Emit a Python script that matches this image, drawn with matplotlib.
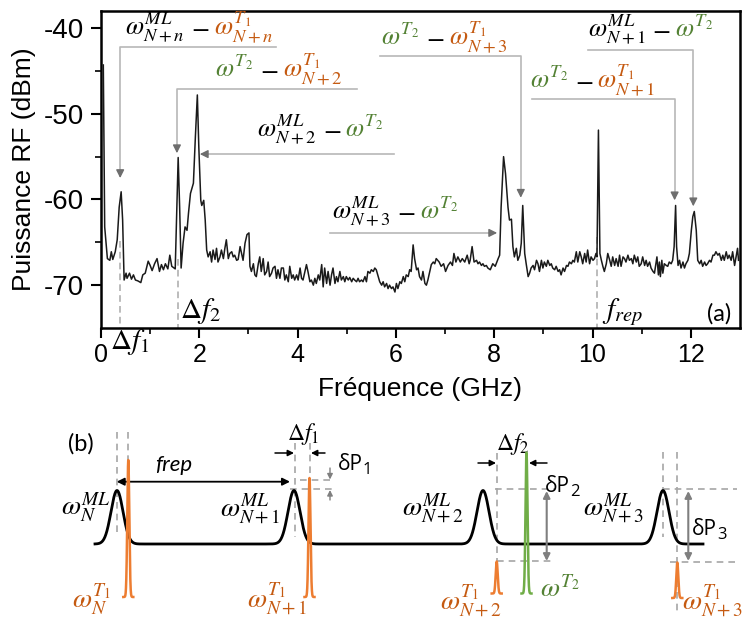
import numpy as np
import matplotlib
matplotlib.use('Agg')
import matplotlib.pyplot as plt
from matplotlib.transforms import offset_copy

plt.rcParams['mathtext.fontset'] = 'stix'
plt.rcParams['axes.unicode_minus'] = False
plt.rcParams['font.family'] = ['Liberation Sans', 'DejaVu Sans']

# ---------------- data: RF spectrum (panel a) ----------------
freq_ghz = [
    0.047, 0.075, 0.13, 0.18, 0.21, 0.24, 0.29, 0.33, 0.37, 0.41, 0.44, 0.47, 0.51, 0.53, 0.58, 0.62,
    0.66, 0.70, 0.75, 0.81, 0.85, 0.90, 0.96, 1.00, 1.04, 1.09, 1.14, 1.19, 1.23, 1.27, 1.31, 1.36,
    1.40, 1.44, 1.51, 1.57, 1.60, 1.63, 1.67, 1.71, 1.75, 1.78, 1.82, 1.88, 1.92, 1.96, 1.99, 2.03,
    2.05, 2.09, 2.12,
    2.15, 2.18, 2.22, 2.25, 2.28, 2.32, 2.35, 2.38, 2.42, 2.45, 2.49, 2.52, 2.55, 2.59, 2.62, 2.66,
    2.69, 2.72, 2.76, 2.79, 2.83, 2.86, 2.89, 2.93, 2.97, 3.01, 3.03, 3.06, 3.10, 3.13, 3.16, 3.20,
    3.23, 3.26, 3.30, 3.33, 3.37, 3.40, 3.43, 3.47, 3.50, 3.54, 3.57, 3.60, 3.64, 3.67, 3.71, 3.74,
    3.77, 3.81, 3.84, 3.88, 3.91, 3.94, 3.98, 4.01, 4.05, 4.08, 4.11, 4.15, 4.18, 4.21, 4.25, 4.28,
    4.32, 4.35, 4.38, 4.42,
    4.45, 4.49, 4.52, 4.55, 4.59, 4.62, 4.66, 4.69, 4.72, 4.76, 4.79, 4.82, 4.86, 4.89, 4.93, 4.96,
    4.99, 5.03, 5.06, 5.10, 5.13, 5.16, 5.20, 5.23, 5.26, 5.30, 5.33, 5.37, 5.40, 5.43, 5.47, 5.50,
    5.54, 5.57, 5.60, 5.64, 5.67, 5.71, 5.74, 5.77, 5.81, 5.84, 5.87, 5.91, 5.94, 5.98, 6.01, 6.04,
    6.08, 6.11, 6.15, 6.18, 6.21, 6.25, 6.28, 6.31, 6.35, 6.38, 6.42, 6.45, 6.48, 6.52, 6.55, 6.59,
    6.62, 6.65, 6.69, 6.72, 6.76,
    6.79, 6.82, 6.88, 6.92, 6.97, 7.01, 7.06, 7.11, 7.15, 7.18, 7.22, 7.26, 7.31, 7.35, 7.40, 7.45,
    7.49, 7.51, 7.55, 7.59, 7.64, 7.67, 7.70, 7.74, 7.77, 7.80, 7.84, 7.87, 7.92, 7.97, 8.02, 8.08,
    8.11, 8.14, 8.19, 8.23, 8.28, 8.31, 8.35, 8.38, 8.41, 8.45, 8.48, 8.52, 8.55, 8.58, 8.62, 8.65,
    8.69, 8.72, 8.75, 8.79, 8.82, 8.86,
    8.89, 8.92, 8.96, 8.99, 9.02, 9.06, 9.09, 9.13, 9.16, 9.19, 9.23, 9.26, 9.30, 9.33, 9.36, 9.40,
    9.43, 9.47, 9.50, 9.53, 9.57, 9.60, 9.63, 9.67, 9.70, 9.74, 9.77, 9.80, 9.84, 9.87, 9.90, 9.94,
    9.97, 10.01, 10.04, 10.07, 10.09, 10.12, 10.15, 10.18, 10.21, 10.24, 10.28, 10.31, 10.35, 10.38,
    10.41, 10.45, 10.48, 10.52, 10.55, 10.58, 10.62, 10.65, 10.68, 10.72, 10.75, 10.79, 10.82, 10.85,
    10.89, 10.92, 10.95,
    10.99, 11.02, 11.06, 11.09, 11.12, 11.16, 11.19, 11.23, 11.26, 11.29, 11.31, 11.34, 11.36, 11.38,
    11.41, 11.43, 11.46, 11.50, 11.53, 11.56, 11.60, 11.63, 11.66, 11.69, 11.71, 11.74, 11.77, 11.80,
    11.84, 11.87, 11.90, 11.94, 11.97, 12.01, 12.04, 12.07, 12.11, 12.14, 12.18, 12.21, 12.24, 12.28,
    12.31, 12.34, 12.38, 12.41, 12.45, 12.48, 12.51, 12.55, 12.58, 12.62, 12.65, 12.68, 12.72, 12.75,
    12.78, 12.82, 12.85, 12.89, 12.92, 12.95, 12.97,
]
power_dbm = [
    -44.3, -63.2, -66.9, -67.1, -66.1, -67.0, -66.1, -64.7, -60.9, -59.1, -62.4, -69.4, -68.6, -69.2, -68.6, -69.3,
    -68.8, -69.4, -69.5, -69.7, -68.8, -68.6, -67.2, -67.7, -68.3, -67.5, -66.9, -68.4, -67.6, -68.2, -67.5, -68.1,
    -66.5, -67.8, -68.1, -55.1, -60.9, -68.0, -65.1, -63.2, -63.6, -61.6, -59.3, -58.1, -52.7, -47.8, -53.9, -60.1,
    -60.7, -60.1, -62.4,
    -65.9, -66.7, -66.1, -67.3, -65.9, -67.0, -65.7, -67.3, -66.7, -65.9, -66.9, -65.7, -64.7, -66.9, -66.3, -66.1,
    -66.7, -66.5, -67.1, -67.0, -65.5, -66.3, -67.1, -65.1, -64.1, -63.9, -67.8, -68.4, -67.5, -68.8, -69.0, -67.5,
    -66.7, -68.4, -66.9, -68.8, -68.4, -67.3, -69.0, -68.6, -68.0, -67.8, -69.2, -68.2, -69.2, -68.0, -68.0, -69.4,
    -68.8, -69.6, -67.8, -69.2, -68.8, -69.4, -68.8, -69.4, -68.0, -69.2, -69.4, -68.4, -67.6, -68.4, -69.6, -69.4,
    -70.0, -69.2, -69.8, -68.8,
    -69.4, -67.6, -70.2, -68.0, -69.8, -68.4, -70.0, -68.8, -68.0, -69.8, -69.0, -69.6, -68.4, -69.4, -69.0, -69.6,
    -69.0, -69.4, -69.1, -69.6, -69.2, -69.4, -69.6, -69.2, -69.6, -69.4, -69.6, -69.0, -69.6, -68.4, -68.6, -68.2,
    -68.4, -68.0, -68.2, -69.0, -69.6, -70.0, -69.6, -70.2, -69.8, -70.4, -70.0, -70.4, -70.2, -70.8, -69.8, -70.4,
    -69.6, -69.8, -69.0, -69.6, -68.8, -69.0, -68.2, -68.4, -65.3, -66.9, -68.2, -68.0, -69.0, -69.4, -68.4, -69.8,
    -70.0, -69.4, -68.4, -67.6, -67.3,
    -67.5, -66.9, -67.3, -67.8, -67.5, -68.4, -67.7, -67.3, -67.7, -66.3, -67.3, -66.7, -67.3, -66.9, -67.3, -66.5,
    -67.5, -67.1, -65.5, -67.3, -67.1, -67.5, -67.3, -67.7, -67.5, -67.8, -67.7, -68.0, -68.2, -67.5, -67.8, -66.9,
    -66.5, -60.9, -55.0, -57.0, -60.9, -62.4, -62.3, -65.5, -66.7, -65.7, -67.1, -66.5, -65.1, -60.7, -66.3, -67.5,
    -69.0, -68.6, -68.0, -67.7, -68.2, -67.1,
    -67.5, -68.4, -67.1, -68.0, -67.3, -67.8, -67.1, -67.7, -67.5, -68.0, -68.2, -67.8, -68.4, -68.2, -68.8, -68.0,
    -68.4, -67.7, -67.8, -67.3, -67.5, -67.1, -67.3, -66.1, -67.3, -66.1, -66.7, -67.5, -66.3, -67.3, -65.9, -67.5,
    -66.7, -67.1, -66.9, -66.3, -66.7, -51.9, -66.3, -67.1, -67.8, -68.4, -67.5, -66.3, -67.1, -67.8,
    -66.7, -67.7, -66.9, -67.8, -66.5, -67.8, -66.7, -66.9, -67.3, -66.5, -67.1, -66.9, -67.5, -66.5,
    -67.3, -66.7, -67.8,
    -67.5, -66.7, -67.7, -67.1, -67.8, -67.3, -68.0, -68.4, -68.6, -67.5, -66.7, -68.8, -67.3, -69.0,
    -67.1, -68.6, -67.5, -67.7, -67.8, -67.3, -67.5, -67.1, -65.5, -60.7, -65.5, -67.7, -67.1, -68.0,
    -67.3, -68.0, -67.5, -67.1, -66.3, -63.6, -62.0, -61.4, -63.6, -67.1, -67.5, -67.1, -67.8, -67.3,
    -67.7, -67.5, -67.1, -67.3, -66.5, -66.5, -66.1, -66.5, -66.3, -67.1, -66.5, -67.1, -66.1, -66.9,
    -66.5, -67.1, -66.1, -67.7, -66.7, -65.7, -67.1,
]

x_major = [0, 2, 4, 6, 8, 10, 12]
x_minor = [1, 3, 5, 7, 9, 11]
y_major = [-70, -60, -50, -40]
y_minor = [-65, -55, -45]

# callouts: tip (freq, dBm), elbow-line level, far end of the line
call_tip_f = [0.39, 1.545, 2.01, 8.06, 8.54, 12.05, 11.67]
call_tip_p = [-57.5, -54.6, -54.7, -63.9, -59.8, -60.8, -60.1]
call_line_p = [-42.2, -47.1, -54.7, -63.9, -43.3, -42.6, -48.3]
call_end_f = [3.56, 5.20, 5.96, 4.65, 5.67, 9.90, 8.76]
call_kind = ['v', 'v', 'h', 'h', 'v', 'v', 'v']

BLACK = '#000000'
ORANGE_T = '#C55A11'
GREEN_T = '#548235'
ORANGE_L = '#ED7D31'
GREEN_L = '#70AD47'

call_text = [
    [(r'$\omega^{ML}_{N+n}$', BLACK), (r'$-$', BLACK), (r'$\omega^{T_1}_{N+n}$', ORANGE_T)],
    [(r'$\omega^{T_2}$', GREEN_T), (r'$-$', BLACK), (r'$\omega^{T_1}_{N+2}$', ORANGE_T)],
    [(r'$\omega^{ML}_{N+2}$', BLACK), (r'$-$', BLACK), (r'$\omega^{T_2}$', GREEN_T)],
    [(r'$\omega^{ML}_{N+3}$', BLACK), (r'$-$', BLACK), (r'$\omega^{T_2}$', GREEN_T)],
    [(r'$\omega^{T_2}$', GREEN_T), (r'$-$', BLACK), (r'$\omega^{T_1}_{N+3}$', ORANGE_T)],
    [(r'$\omega^{ML}_{N+1}$', BLACK), (r'$-$', BLACK), (r'$\omega^{T_2}$', GREEN_T)],
    [(r'$\omega^{T_2}$', GREEN_T), (r'$-$', BLACK), (r'$\omega^{T_1}_{N+1}$', ORANGE_T)],
]
call_text_f = [0.49, 2.32, 3.17, 4.70, 5.70, 9.90, 8.72]
call_text_p = [-40.8, -45.7, -52.7, -62.3, -42.0, -41.0, -47.0]

fig = plt.figure(figsize=(7.45, 6.2), dpi=100)
renderer = fig.canvas.get_renderer()


def rich(ax, x, y, pieces, size, gaps=(7, 4)):
    dx = 0.0
    for i, (s, c) in enumerate(pieces):
        tr = offset_copy(ax.transData, fig=fig, x=dx, y=0, units='dots')
        t = ax.text(x, y, s, color=c, fontsize=size, transform=tr,
                    ha='left', va='baseline', clip_on=False)
        dx += t.get_window_extent(renderer).width
        if i < len(gaps):
            dx += gaps[i]


# ---------------- panel (a) ----------------
ax = fig.add_axes([101 / 745, 1 - 328 / 620, (740 - 101) / 745, (328 - 11) / 620])
ax.plot(freq_ghz, power_dbm, color='#1a1a1a', lw=1.1, zorder=3)
ax.set_xlim(0, 13)
ax.set_ylim(-75, -38)
ax.set_xticks(x_major)
ax.set_xticks(x_minor, minor=True)
ax.set_yticks(y_major)
ax.set_yticks(y_minor, minor=True)
ax.tick_params(which='major', length=7, width=1.5, direction='out')
ax.tick_params(axis='x', which='major', labelsize=18, pad=4)
ax.tick_params(axis='y', which='major', labelsize=20, pad=5)
ax.tick_params(which='minor', length=4, width=1.2, direction='out')
for sp in ax.spines.values():
    sp.set_linewidth(1.8)
ax.set_xlabel('Fréquence (GHz)', fontsize=19, labelpad=7)
ax.set_ylabel('Puissance RF (dBm)', fontsize=19, labelpad=6)

LINE_G = '#B8B8B8'
HEAD_G = '#6E6E6E'
for tf, tp, lp, ef, kind in zip(call_tip_f, call_tip_p, call_line_p, call_end_f, call_kind):
    if kind == 'v':
        ax.plot([ef, tf, tf], [lp, lp, tp + 0.6], color=LINE_G, lw=1.2, zorder=2)
        ax.annotate('', xy=(tf, tp), xytext=(tf, tp + 0.9),
                    arrowprops=dict(arrowstyle='-|>', color=HEAD_G, lw=1,
                                    mutation_scale=12, shrinkA=0, shrinkB=0))
    else:
        sgn = 1 if ef > tf else -1
        ax.plot([ef, tf + sgn * 0.1], [lp, lp], color=LINE_G, lw=1.2, zorder=2)
        ax.annotate('', xy=(tf, tp), xytext=(tf + sgn * 0.16, tp),
                    arrowprops=dict(arrowstyle='-|>', color=HEAD_G, lw=1,
                                    mutation_scale=12, shrinkA=0, shrinkB=0))

for pieces, tx, ty in zip(call_text, call_text_f, call_text_p):
    rich(ax, tx, ty, pieces, 19)

# dashed markers in panel a
mark_f = [0.39, 1.57, 10.1]
mark_top = [-64.8, -67.0, -64.4]
for mf, mt in zip(mark_f, mark_top):
    ax.plot([mf, mf], [mt, -75], ls=(0, (4, 2.5)), color='#B0B0B0', lw=1.2, zorder=1)

ax.text(0.18, -77.5, r'$\Delta f_{\mathit{1}}$', fontsize=21, ha='left', va='baseline', clip_on=False)
ax.text(1.61, -73.8, r'$\Delta f_{2}$', fontsize=21, ha='left', va='baseline')
ax.text(10.2, -73.8, r'$f_{rep}$', fontsize=21, ha='left', va='baseline')
ax.text(12.83, -74.1, '(a)', fontsize=17, ha='right', va='baseline', family=['Lato', 'DejaVu Sans'])

# ---------------- panel (b): schematic ----------------
ax2 = fig.add_axes([0, 0, 1, 1])
ax2.set_xlim(0, 745)
ax2.set_ylim(620, 0)
ax2.axis('off')

ml_centers = [117, 294, 483, 663]
ml_base, ml_height, ml_sigma = 544, 53.5, 6.0
ml_start, ml_end = 95, 703
xs = np.linspace(ml_start, ml_end, 3000)
ys = np.full_like(xs, ml_base, dtype=float)
for c in ml_centers:
    ys -= ml_height * np.exp(-(xs - c) ** 2 / (2 * ml_sigma ** 2))
ax2.plot(xs, ys, color='k', lw=2.0, zorder=3)

# narrow laser lines
t_centers = [128.3, 309.5, 496.7, 526.5, 677.3]
t_base = [597, 597, 593.5, 593.5, 598]
t_top = [460, 478, 561.5, 452.5, 562.5]
t_color = [ORANGE_L, ORANGE_L, ORANGE_L, GREEN_L, ORANGE_L]
for c, b, tp, col in zip(t_centers, t_base, t_top, t_color):
    xx = np.linspace(c - 5, c + 5, 400)
    yy = b - (b - tp) * np.exp(-(xx - c) ** 2 / (2 * 1.0 ** 2))
    ax2.plot(xx, yy, color=col, lw=1.8, zorder=4)

DASH_G = '#A6A6A6'
DASH = (0, (4, 3))
vdash = [(116.7, 432, 537), (128.3, 432, 462), (295, 443, 537), (310, 443, 480),
         (496.7, 453, 563), (662.7, 452, 537), (676.7, 452, 613)]
for x0, y0, y1 in vdash:
    ax2.plot([x0, x0], [y0, y1], color=DASH_G, ls=DASH, lw=1.2, zorder=2)
hdash = [(300, 333, 480), (290, 333, 489.3), (495, 555, 489.3), (496.7, 555, 561),
         (663, 737, 489.3), (670, 737, 562.3)]
for x0, x1, y0 in hdash:
    ax2.plot([x0, x1], [y0, y0], color=DASH_G, ls=DASH, lw=1.2, zorder=2)

# frep arrow
ax2.annotate('', xy=(290, 481.7), xytext=(116.7, 481.7),
             arrowprops=dict(arrowstyle='<|-|>', color='k', lw=1.3, mutation_scale=11,
                             shrinkA=0, shrinkB=0))
ax2.text(174, 465, 'frep', fontsize=16, style='italic', ha='center', va='center',
         family=['Lato', 'DejaVu Sans'])

# delta f arrows
for (xa, xb, yy) in [(275, 294, 453), (325, 311, 453), (478, 496, 463), (547, 529, 463)]:
    ax2.annotate('', xy=(xb, yy), xytext=(xa, yy),
                 arrowprops=dict(arrowstyle='-|>', color='k', lw=1.1, mutation_scale=9,
                                 shrinkA=0, shrinkB=0))
ax2.text(303, 440, r'$\Delta f_{\mathit{1}}$', fontsize=17, ha='center', va='baseline')
ax2.text(513, 450, r'$\Delta f_{2}$', fontsize=17, ha='center', va='baseline')

# delta P arrows
ARR_G = '#7F7F7F'
for (ya, yb) in [(468, 479.5), (500, 490)]:
    ax2.annotate('', xy=(330, yb), xytext=(330, ya),
                 arrowprops=dict(arrowstyle='-|>', color=ARR_G, lw=1.0, mutation_scale=8,
                                 shrinkA=0, shrinkB=0))
for xv in [546.7, 688.3]:
    ax2.annotate('', xy=(xv, 491), xytext=(xv, 561),
                 arrowprops=dict(arrowstyle='<|-|>', color=ARR_G, lw=1.5, mutation_scale=10,
                                 shrinkA=0, shrinkB=0))

SANS = ['Open Sans', 'DejaVu Sans']
for lbl, sub, x0, y0 in [('δP', '1', 338, 470), ('δP', '2', 545, 492), ('δP', '3', 692, 535)]:
    t = ax2.text(x0, y0, lbl, fontsize=15, ha='left', va='baseline', family=SANS)
    w = t.get_window_extent(renderer).width
    ax2.text(x0, y0, sub, fontsize=12, ha='left', va='baseline', family=SANS,
             transform=offset_copy(ax2.transData, fig=fig, x=w, y=-4, units='dots'))

ax2.text(81, 444, '(b)', fontsize=17, ha='center', va='center', family=['Lato', 'DejaVu Sans'])

ml_labels = [r'$\omega^{ML}_{N}$', r'$\omega^{ML}_{N+1}$', r'$\omega^{ML}_{N+2}$', r'$\omega^{ML}_{N+3}$']
ml_label_right = [111, 281, 464, 644]
for s, x0 in zip(ml_labels, ml_label_right):
    ax2.text(x0, 515, s, fontsize=20, ha='right', va='baseline', color=BLACK)

t_labels = [r'$\omega^{T_1}_{N}$', r'$\omega^{T_1}_{N+1}$', r'$\omega^{T_1}_{N+2}$', r'$\omega^{T_2}$',
            r'$\omega^{T_1}_{N+3}$']
t_label_x = [72, 247, 440, 540, 682]
t_label_y = [607, 607, 608, 597, 608]
t_label_c = [ORANGE_T, ORANGE_T, ORANGE_T, GREEN_T, ORANGE_T]
for s, x0, y0, c in zip(t_labels, t_label_x, t_label_y, t_label_c):
    ax2.text(x0, y0, s, fontsize=20, ha='left', va='baseline', color=c, clip_on=False)

fig.savefig('out.png', dpi=100)
